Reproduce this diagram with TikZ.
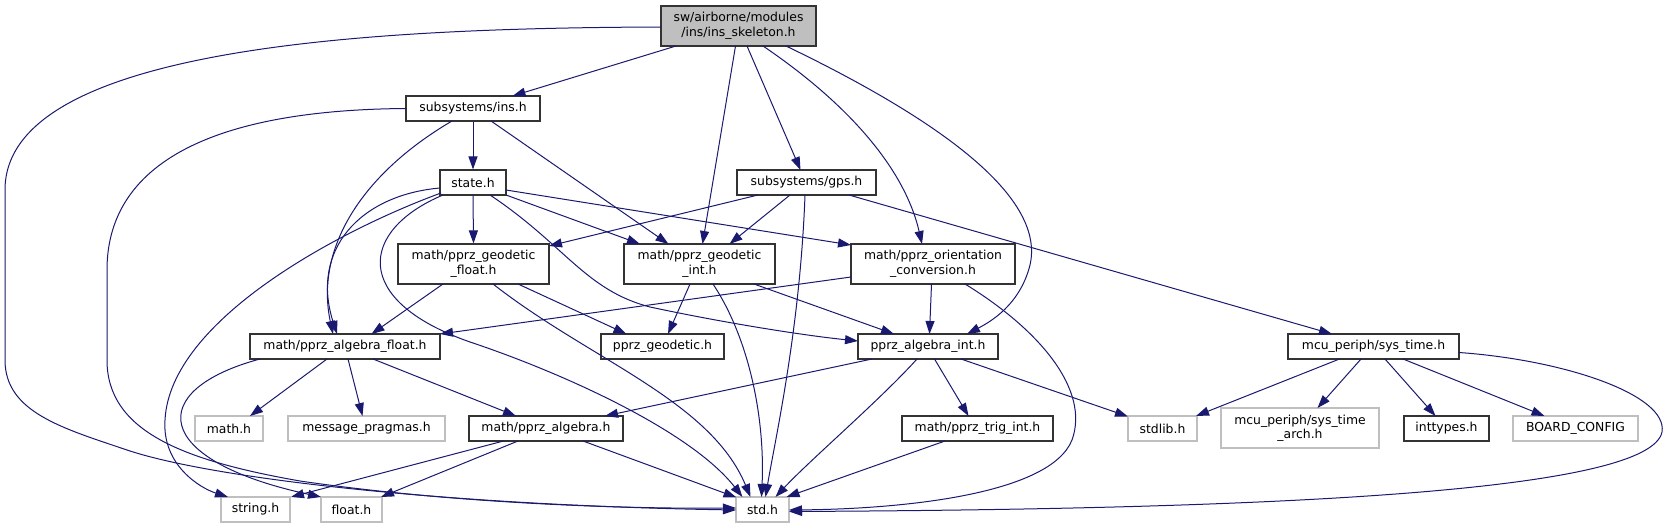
\documentclass[tikz,border=0pt]{standalone}
\usepackage{fontspec}
\setmainfont{DejaVu Sans}
\usetikzlibrary{arrows.meta}
\definecolor{edgeblue}{HTML}{191970}
\definecolor{greyseventyfive}{HTML}{BFBFBF}
\begin{document}
\begin{tikzpicture}[x=1pt,y=-1pt,
  box/.style={draw=black!80,line width=1.1pt,fill=white,inner sep=0pt,
    font=\fontsize{12.4}{14.5}\selectfont,align=center,minimum height=25pt},
  tall/.style={minimum height=40pt},
  gbox/.style={box,draw=greyseventyfive},
  edge/.style={draw=edgeblue,line width=1pt,-{Triangle[length=13pt,width=9pt]}}]
\useasboundingbox (0,0) rectangle (1669,529);

% nodes
\node[box,tall,fill=greyseventyfive,minimum width=155pt] (root) at (738.5,26) {sw/airborne/modules\\/ins/ins\_skeleton.h};
\node[box,minimum width=134pt] (ins) at (473,108.5) {subsystems/ins.h};
\node[box,minimum width=66pt] (state) at (473,182.5) {state.h};
\node[box,tall,minimum width=151pt] (gfloat) at (473.5,264) {math/pprz\_geodetic\\\_float.h};
\node[box,minimum width=139pt] (gps) at (806.5,182.5) {subsystems/gps.h};
\node[box,tall,minimum width=151pt] (gint) at (699.5,264) {math/pprz\_geodetic\\\_int.h};
\node[box,tall,minimum width=164pt] (orient) at (933,264) {math/pprz\_orientation\\\_conversion.h};
\node[box,minimum width=190pt] (afloat) at (345,346.5) {math/pprz\_algebra\_float.h};
\node[box,minimum width=123pt] (geod) at (662.5,346.5) {pprz\_geodetic.h};
\node[box,minimum width=140pt] (aint) at (928,346.5) {pprz\_algebra\_int.h};
\node[box,minimum width=171pt] (systime) at (1373.5,346.5) {mcu\_periph/sys\_time.h};
\node[gbox,minimum width=68pt] (math) at (229,428.5) {math.h};
\node[gbox,minimum width=157pt] (msg) at (366.5,428.5) {message\_pragmas.h};
\node[box,minimum width=154pt] (alg) at (546,428.5) {math/pprz\_algebra.h};
\node[box,minimum width=151pt] (trig) at (977.5,428.5) {math/pprz\_trig\_int.h};
\node[gbox,minimum width=69pt] (stdlib) at (1162.5,428.5) {stdlib.h};
\node[gbox,tall,minimum width=158pt] (arch) at (1300,428) {mcu\_periph/sys\_time\\\_arch.h};
\node[box,minimum width=85pt] (inttypes) at (1446.5,428.5) {inttypes.h};
\node[gbox,minimum width=125pt] (board) at (1575.5,428.5) {BOARD\_CONFIG};
\node[gbox,minimum width=69pt] (string) at (255.5,509.5) {string.h};
\node[gbox,minimum width=61pt] (float) at (351.5,509.5) {float.h};
\node[gbox,minimum width=53pt] (std) at (762.5,509.5) {std.h};

% root
\draw[edge] ([shift={(-62.5,20)}]root.center) -- ([shift={(39.5,-12.5)}]ins.center);
\draw[edge] ([shift={(-77.5,1)}]root.center) .. controls (380,28) and (5,45) .. (5,190) -- (5,360)
  .. controls (5,412) and (62,428) .. (127,450) .. controls (210,478) and (440,505) .. ([shift={(-26.5,0.5)}]std.center);
\draw[edge] ([shift={(-3,20)}]root.center) -- ([shift={(3,-20)}]gint.center);
\draw[edge] ([shift={(8.5,20)}]root.center) -- ([shift={(-6,-12.5)}]gps.center);
\draw[edge] ([shift={(24.5,20)}]root.center) .. controls (850,105) and (905,170) .. ([shift={(-11,-20)}]orient.center);
\draw[edge] ([shift={(47.5,20)}]root.center) .. controls (950,125) and (1045,200) .. (1030,265)
  .. controls (1020,305) and (990,322) .. ([shift={(39,-12.5)}]aint.center);

% ins
\draw[edge] (ins.south) -- (state.north);
\draw[edge] ([shift={(-67,0)}]ins.center) .. controls (200,110) and (107,170) .. (107,270) -- (107,360)
  .. controls (107,430) and (180,460) .. (300,481) .. controls (450,503) and (620,509) .. ([shift={(-26.5,-1.5)}]std.center);
\draw[edge] ([shift={(-21,12.5)}]ins.center) .. controls (360,175) and (315,250) .. ([shift={(-12,-12.5)}]afloat.center);
\draw[edge] ([shift={(18,12.5)}]ins.center) -- ([shift={(-31,-20)}]gint.center);

% state
\draw[edge] (state.south) -- (gfloat.north);
\draw[edge] ([shift={(33,12.5)}]state.center) -- ([shift={(-59.5,-20)}]gint.center);
\draw[edge] ([shift={(33,7.5)}]state.center) -- ([shift={(-82,-19)}]orient.center);
\draw[edge] ([shift={(17,12.5)}]state.center) .. controls (565,245) and (585,290) .. (650,307)
  .. controls (720,322) and (800,335) .. ([shift={(-70,-5.5)}]aint.center);
\draw[edge] ([shift={(-33,5.5)}]state.center) .. controls (360,195) and (310,250) .. ([shift={(-8,-12.5)}]afloat.center);
\draw[edge] ([shift={(-32,10.5)}]state.center) .. controls (340,230) and (170,320) .. (165,420)
  .. controls (162,465) and (200,488) .. ([shift={(-27.5,-12.5)}]string.center);
\draw[edge] ([shift={(-30,12.5)}]state.center) .. controls (360,230) and (350,300) .. (470,342)
  .. controls (560,372) and (690,430) .. ([shift={(-20,-12.5)}]std.center);

% gps
\draw[edge] ([shift={(-48.5,12.5)}]gps.center) -- ([shift={(75.5,-18)}]gfloat.center);
\draw[edge] ([shift={(-16.5,12.5)}]gps.center) -- ([shift={(30,-20)}]gint.center);
\draw[edge] ([shift={(-1.5,12.5)}]gps.center) .. controls (800,330) and (775,440) .. ([shift={(3,-12.5)}]std.center);
\draw[edge] ([shift={(42.5,12.5)}]gps.center) -- ([shift={(-41.5,-12.5)}]systime.center);

% geodetic float
\draw[edge] ([shift={(-30.5,20)}]gfloat.center) -- ([shift={(26.5,-12.5)}]afloat.center);
\draw[edge] ([shift={(44.5,20)}]gfloat.center) -- ([shift={(-36,-12.5)}]geod.center);
\draw[edge] ([shift={(19.5,20)}]gfloat.center) .. controls (590,360) and (710,400) .. ([shift={(-12,-12.5)}]std.center);

% geodetic int
\draw[edge] ([shift={(-9.5,20)}]gint.center) -- ([shift={(5.5,-12.5)}]geod.center);
\draw[edge] ([shift={(13.5,20)}]gint.center) .. controls (750,340) and (765,420) .. ([shift={(-1,-12.5)}]std.center);
\draw[edge] ([shift={(54.5,20)}]gint.center) -- ([shift={(-34,-12.5)}]aint.center);

% orientation conversion
\draw[edge] ([shift={(-82,13)}]orient.center) -- ([shift={(95,-12.5)}]afloat.center);
\draw[edge] ([shift={(-1.5,20)}]orient.center) -- ([shift={(1.5,-12.5)}]aint.center);
\draw[edge] ([shift={(32,20)}]orient.center) .. controls (1040,330) and (1090,390) .. (1072,440)
  .. controls (1050,495) and (900,509) .. ([shift={(26.5,0.5)}]std.center);

% algebra float
\draw[edge] ([shift={(-85,12.5)}]afloat.center) .. controls (145,390) and (150,460) .. ([shift={(-30.5,-12.5)}]float.center);
\draw[edge] ([shift={(-18,12.5)}]afloat.center) -- ([shift={(21,-12.5)}]math.center);
\draw[edge] ([shift={(3,12.5)}]afloat.center) -- ([shift={(-4,-12.5)}]msg.center);
\draw[edge] ([shift={(28,12.5)}]afloat.center) -- ([shift={(-30,-12.5)}]alg.center);

% algebra int
\draw[edge] ([shift={(-56,12.5)}]aint.center) -- ([shift={(59,-12.5)}]alg.center);
\draw[edge] ([shift={(-11,12.5)}]aint.center) .. controls (880,400) and (810,460) .. ([shift={(13,-12.5)}]std.center);
\draw[edge] ([shift={(6.5,12.5)}]aint.center) -- ([shift={(-9,-12.5)}]trig.center);
\draw[edge] ([shift={(33,12.5)}]aint.center) -- ([shift={(-34.5,-12)}]stdlib.center);

% algebra
\draw[edge] ([shift={(-42.5,12.5)}]alg.center) -- ([shift={(35.5,-12.5)}]string.center);
\draw[edge] ([shift={(-28,12.5)}]alg.center) -- ([shift={(29.5,-12.5)}]float.center);
\draw[edge] ([shift={(37,12.5)}]alg.center) -- ([shift={(-26,-12)}]std.center);

% trig
\draw[edge] ([shift={(-32.5,12.5)}]trig.center) -- ([shift={(24,-12.5)}]std.center);

% sys_time
\draw[edge] ([shift={(-34,12.5)}]systime.center) -- ([shift={(33.5,-12.5)}]stdlib.center);
\draw[edge] ([shift={(-12.5,12.5)}]systime.center) -- ([shift={(17.5,-20)}]arch.center);
\draw[edge] ([shift={(11.5,12.5)}]systime.center) -- ([shift={(-11,-12.5)}]inttypes.center);
\draw[edge] ([shift={(29.5,12.5)}]systime.center) -- ([shift={(-31,-12.5)}]board.center);
\draw[edge] ([shift={(85.5,6)}]systime.center) .. controls (1565,360) and (1668,395) .. (1662,432)
  .. controls (1650,490) and (1300,509) .. ([shift={(26.5,2)}]std.center);
\end{tikzpicture}
\end{document}
